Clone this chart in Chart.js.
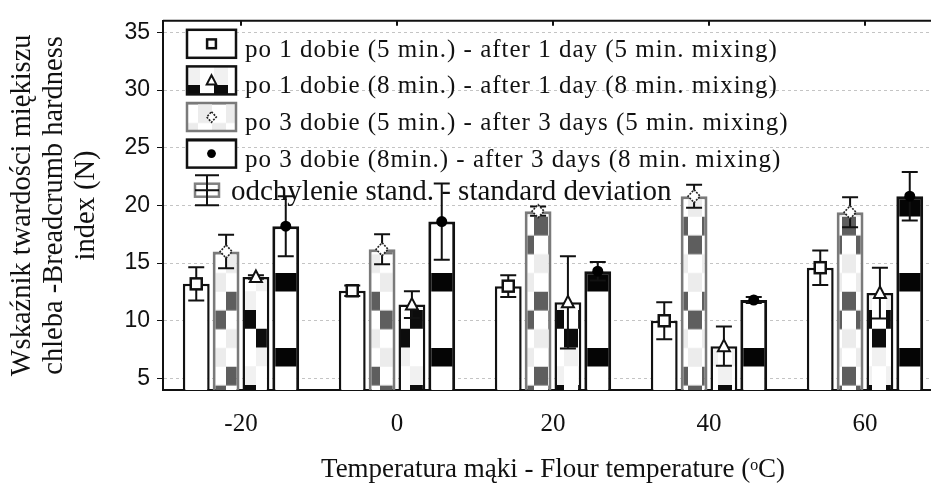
<!DOCTYPE html>
<html>
<head>
<meta charset="utf-8">
<script src="https://cdn.jsdelivr.net/npm/chart.js@4.4.1/dist/chart.umd.min.js"></script>
<style>
  html, body { margin: 0; padding: 0; background: #fff; overflow: hidden; }
  #wrap { width: 950px; height: 488px; }
</style>
</head>
<body>
<div id="wrap"><canvas id="hardness-chart" width="950" height="488"></canvas></div>
<script>
// data
const temperatures = ['-20', '0', '20', '40', '60'];
const yTicks = [5, 10, 15, 20, 25, 30, 35];

const day1min5 = [13.2, 12.6, 13.0, 10.0, 14.6];
const day1min5Sd = [1.45, 0.45, 0.95, 1.6, 1.5];
const day3min5 = [16.0, 16.2, 19.5, 20.8, 19.4];
const day3min5Sd = [1.45, 1.3, 0.4, 1.0, 1.3];
const day1min8 = [13.8, 11.4, 11.6, 7.8, 12.4];
const day1min8Sd = [0.15, 1.15, 4.0, 1.7, 2.2];
const day3min8 = [18.2, 18.6, 14.3, 11.8, 20.8];
const day3min8Sd = [2.6, 3.3, 0.8, 0.25, 2.1];

const seriesLabels = [
    'po 1 dobie (5 min.) - after 1 day (5 min. mixing)',
    'po 3 dobie (5 min.) - after 3 days (5 min. mixing)',
    'po 1 dobie (8 min.) - after 1 day (8 min. mixing)',
    'po 3 dobie (8min.) - after 3 days (8 min. mixing)',
];
const sdLabel = 'odchylenie stand. - standard deviation';
const legendOrder = [0, 2, 1, 3];

const canvas = document.getElementById('hardness-chart');
const g = canvas.getContext('2d');

// fill patterns (anchored to the canvas like the original)
const makePattern = (w, h, dx, dy, paint) => {
    const tile = document.createElement('canvas');
    tile.width = w;
    tile.height = h;
    const t = tile.getContext('2d');
    t.fillStyle = '#fff';
    t.fillRect(0, 0, w, h);
    paint(t);
    const p = g.createPattern(tile, 'repeat');
    p.setTransform(new DOMMatrix().translate(dx, dy));
    return p;
};

const greyChecker = makePattern(28, 75, 16, 66.7, (t) => {
    t.fillStyle = '#ececec';
    t.fillRect(14, 37.5, 14, 18.75);
    t.fillRect(0, 56.25, 14, 18.75);
    t.fillStyle = '#5e5e5e';
    t.fillRect(14, 0, 14, 18.75);
    t.fillRect(0, 18.75, 14, 18.75);
});
const blackChecker = makePattern(28, 75, 18, 10, (t) => {
    t.fillStyle = '#f1f1f1';
    t.fillRect(14, 37.5, 14, 18.75);
    t.fillRect(0, 56.25, 14, 18.75);
    t.fillStyle = '#0c0c0c';
    t.fillRect(0, 0, 14, 18.75);
    t.fillRect(14, 18.75, 14, 18.75);
});
const blackBands = makePattern(4, 75, 0, 48, (t) => {
    t.fillStyle = '#050505';
    t.fillRect(0, 0, 4, 18.5);
});

const drawMarker = (ctx, kind, x, y, s = 1) => {
    ctx.save();
    if (kind === 'square') {
        ctx.fillStyle = '#fff';
        ctx.strokeStyle = '#111';
        ctx.lineWidth = 2.5;
        ctx.fillRect(x - 5.5 * s, y - 5.5 * s, 11 * s, 11 * s);
        ctx.strokeRect(x - 5.5 * s, y - 5.5 * s, 11 * s, 11 * s);
    } else if (kind === 'diamond') {
        ctx.fillStyle = '#fff';
        ctx.strokeStyle = '#222';
        ctx.lineWidth = 1.6;
        ctx.setLineDash([2, 1.2]);
        ctx.beginPath();
        ctx.moveTo(x, y - 6.5 * s);
        ctx.lineTo(x + 6 * s, y);
        ctx.lineTo(x, y + 6.5 * s);
        ctx.lineTo(x - 6 * s, y);
        ctx.closePath();
        ctx.fill();
        ctx.stroke();
    } else if (kind === 'triangle') {
        ctx.fillStyle = '#fff';
        ctx.strokeStyle = '#111';
        ctx.lineWidth = 2;
        ctx.beginPath();
        ctx.moveTo(x, y - 6.5 * s);
        ctx.lineTo(x + 6 * s, y + 5 * s);
        ctx.lineTo(x - 6 * s, y + 5 * s);
        ctx.closePath();
        ctx.fill();
        ctx.stroke();
    } else {
        ctx.fillStyle = '#000';
        ctx.beginPath();
        ctx.arc(x, y, 5.5 * s, 0, Math.PI * 2);
        ctx.fill();
    }
    ctx.restore();
};

// error bars + point markers on each bar
const errorBars = {
    id: 'errorBars',
    afterDatasetsDraw(chart) {
        const { ctx, scales: { y } } = chart;
        chart.data.datasets.forEach((ds, i) => {
            chart.getDatasetMeta(i).data.forEach((bar, j) => {
                const v = ds.data[j];
                const sd = ds.sd[j];
                const hi = y.getPixelForValue(v + sd);
                const lo = y.getPixelForValue(v - sd);
                ctx.save();
                ctx.strokeStyle = '#111';
                ctx.lineWidth = 2;
                ctx.beginPath();
                ctx.moveTo(bar.x, hi);
                ctx.lineTo(bar.x, lo);
                ctx.moveTo(bar.x - 8, hi);
                ctx.lineTo(bar.x + 8, hi);
                ctx.moveTo(bar.x - 8, lo);
                ctx.lineTo(bar.x + 8, lo);
                ctx.stroke();
                ctx.restore();
                drawMarker(ctx, ds.marker, bar.x, y.getPixelForValue(v));
            });
        });
    }
};

// top frame line with small ticks
const frame = {
    id: 'frame',
    afterDatasetsDraw(chart) {
        const { ctx, chartArea: a, scales: { x } } = chart;
        ctx.save();
        ctx.strokeStyle = '#111';
        ctx.lineWidth = 2;
        ctx.beginPath();
        ctx.moveTo(a.left, a.top);
        ctx.lineTo(a.right, a.top);
        temperatures.forEach((_, i) => {
            const px = x.getPixelForValue(i);
            ctx.moveTo(px, a.top);
            ctx.lineTo(px, a.top + 5);
        });
        ctx.stroke();
        ctx.restore();
    }
};

// legend drawn inside the plot, like the original
const boxLegend = {
    id: 'boxLegend',
    afterDraw(chart) {
        const { ctx, chartArea: a } = chart;
        const left = a.left + 24;
        const top0 = a.top + 9;
        const spaced = 'letterSpacing' in ctx;
        legendOrder.forEach((di, row) => {
            const ds = chart.data.datasets[di];
            const top = top0 + row * 36.6;
            ctx.save();
            ctx.fillStyle = ds.backgroundColor;
            ctx.fillRect(left, top, 49, 28);
            ctx.strokeStyle = ds.borderColor;
            ctx.lineWidth = 2.5;
            ctx.strokeRect(left, top, 49, 28);
            drawMarker(ctx, ds.marker, left + 24.5, top + 14, 0.8);
            ctx.fillStyle = '#111';
            ctx.font = '25px "Liberation Serif"';
            ctx.textBaseline = 'alphabetic';
            ctx.translate(left + 58, top + 27);
            if (spaced) {
                ctx.letterSpacing = '1px';
            } else {
                ctx.scale(1.1, 1);
            }
            ctx.fillText(ds.label, 0, 0);
            ctx.restore();
        });
        // standard deviation symbol
        const cx = left + 20;
        const cy = top0 + 4 * 36.6 + 14;
        ctx.save();
        ctx.strokeStyle = '#808080';
        ctx.lineWidth = 2.5;
        ctx.strokeRect(cx - 12, cy - 6.5, 24, 13);
        ctx.strokeStyle = '#111';
        ctx.lineWidth = 2;
        ctx.beginPath();
        ctx.moveTo(cx, cy - 15);
        ctx.lineTo(cx, cy + 15);
        ctx.moveTo(cx - 12, cy - 15);
        ctx.lineTo(cx + 12, cy - 15);
        ctx.moveTo(cx - 12, cy + 15);
        ctx.lineTo(cx + 12, cy + 15);
        ctx.moveTo(cx - 12, cy);
        ctx.lineTo(cx + 12, cy);
        ctx.stroke();
        ctx.fillStyle = '#111';
        ctx.font = '29px "Liberation Serif"';
        ctx.textBaseline = 'alphabetic';
        ctx.fillText(sdLabel, left + 44, cy + 10);
        ctx.restore();
    }
};

const hardnessChart = () => {
    const option = {
        type: 'bar',
        data: {
            labels: temperatures,
            datasets: [
                { label: seriesLabels[0], data: day1min5, sd: day1min5Sd, marker: 'square',
                  backgroundColor: '#fff', borderColor: '#111', borderWidth: 2.5 },
                { label: seriesLabels[1], data: day3min5, sd: day3min5Sd, marker: 'diamond',
                  backgroundColor: greyChecker, borderColor: '#7a7a7a', borderWidth: 3 },
                { label: seriesLabels[2], data: day1min8, sd: day1min8Sd, marker: 'triangle',
                  backgroundColor: blackChecker, borderColor: '#111', borderWidth: 2.5 },
                { label: seriesLabels[3], data: day3min8, sd: day3min8Sd, marker: 'circle',
                  backgroundColor: blackBands, borderColor: '#111', borderWidth: 3 },
            ]
        },
        options: {
            responsive: false,
            animation: false,
            events: [],
            layout: { padding: { left: 0, right: 7, top: 13, bottom: 0 } },
            datasets: { bar: { categoryPercentage: 0.765, barPercentage: 0.9 } },
            plugins: { legend: { display: false }, tooltip: { enabled: false } },
            scales: {
                x: {
                    grid: { display: false, drawTicks: false },
                    border: { display: true, color: '#111', width: 2 },
                    ticks: { color: '#111', padding: 19, font: { family: 'Liberation Serif', size: 25 } },
                    title: {
                        display: true,
                        text: 'Temperatura mąki - Flour temperature (ᵒC)',
                        color: '#111',
                        font: { family: 'Liberation Serif', size: 27 },
                        padding: { top: 0, bottom: 2 }
                    },
                    afterFit: (s) => { s.height = 98; }
                },
                y: {
                    min: 4,
                    max: 36,
                    afterBuildTicks: (s) => { s.ticks = yTicks.map((v) => ({ value: v })); },
                    grid: { color: '#c4c4c4', lineWidth: 1, tickLength: 6, tickColor: '#111', tickBorderDash: [] },
                    border: { display: true, color: '#111', width: 2, dash: [3, 3] },
                    ticks: { color: '#111', padding: 7, font: { family: 'Liberation Sans', size: 23 } },
                    title: {
                        display: true,
                        text: ['Wskaźnik twardości miękiszu', 'chleba -Breadcrumb hardness', 'index (N)'],
                        color: '#111',
                        font: { family: 'Liberation Serif', size: 28.5, lineHeight: '32px' },
                        padding: { top: 7, bottom: 0 }
                    },
                    afterFit: (s) => { s.width = 163; }
                }
            }
        },
        plugins: [frame, errorBars, boxLegend]
    };
    new Chart(canvas, option);
};

hardnessChart();
</script>
</body>
</html>
